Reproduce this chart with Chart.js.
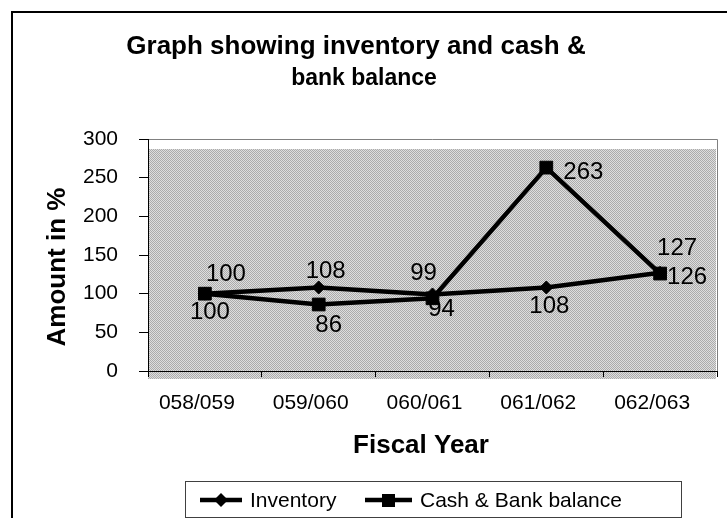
<!DOCTYPE html>
<html>
<head>
<meta charset="utf-8">
<script src="https://cdn.jsdelivr.net/npm/chart.js@4.4.1/dist/chart.umd.min.js"></script>
<style>
  html, body { margin: 0; padding: 0; background: #fff; }
  #wrap { width: 727px; height: 518px; }
</style>
</head>
<body>
<div id="wrap"><canvas id="chart"></canvas></div>
<script>
const YEARS = ["058/059", "059/060", "060/061", "061/062", "062/063"]
const INVENTORY = [100, 108, 99, 108, 127]
const CASH_BANK = [100, 86, 94, 263, 126]
const Y_TICKS = [0, 50, 100, 150, 200, 250, 300]

// offset of each value label from its point, in px
const INVENTORY_LABEL_SHIFT = [[21, -19], [7, -16], [-9, -21], [3, 19], [17, -24]]
const CASH_LABEL_SHIFT = [[5, 19], [10, 21], [9, 11], [37, 5], [27, 4]]

const FONT = "'Liberation Sans', Arial, sans-serif"

// small two-tone tile for the dotted plot background
function dotPattern(ctx) {
  const tile = document.createElement("canvas")
  tile.width = 2
  tile.height = 2
  const g = tile.getContext("2d")
  g.fillStyle = "#dedede"
  g.fillRect(0, 0, 2, 2)
  g.fillStyle = "#ababab"
  g.fillRect(0, 0, 1, 1)
  g.fillRect(1, 1, 1, 1)
  return ctx.createPattern(tile, "repeat")
}

function diamond(ctx, x, y, r) {
  ctx.beginPath()
  ctx.moveTo(x, y - r)
  ctx.lineTo(x + r, y)
  ctx.lineTo(x, y + r)
  ctx.lineTo(x - r, y)
  ctx.closePath()
  ctx.fill()
}

const decorations = {
  id: "decorations",
  beforeDraw(chart) {
    const { ctx, chartArea: a } = chart
    ctx.save()
    ctx.fillStyle = "#fff"
    ctx.fillRect(0, 0, chart.width, chart.height)

    // outer frame
    ctx.strokeStyle = "#000"
    ctx.lineWidth = 2
    ctx.beginPath()
    ctx.moveTo(12, 530)
    ctx.lineTo(12, 12)
    ctx.lineTo(740, 12)
    ctx.stroke()

    // plot area fill and outline
    ctx.fillStyle = dotPattern(ctx)
    ctx.fillRect(a.left, a.top + 10, a.right - a.left - 1, a.bottom - a.top - 2)
    ctx.strokeStyle = "#808080"
    ctx.lineWidth = 1
    ctx.beginPath()
    ctx.moveTo(a.left, a.top + 0.5)
    ctx.lineTo(a.right + 0.5, a.top + 0.5)
    ctx.lineTo(a.right + 0.5, a.bottom)
    ctx.stroke()
    ctx.restore()
  },
  afterDraw(chart) {
    const { ctx } = chart
    ctx.save()
    ctx.fillStyle = "#000"

    // chart title
    ctx.textAlign = "center"
    ctx.textBaseline = "alphabetic"
    ctx.font = "bold 26px " + FONT
    ctx.fillText("Graph showing inventory and cash &", 356, 54)
    ctx.font = "bold 23px " + FONT
    ctx.fillText("bank balance", 364, 85)

    // axis titles
    ctx.font = "bold 26px " + FONT
    ctx.fillText("Fiscal Year", 421, 453)
    ctx.save()
    ctx.translate(65, 267)
    ctx.rotate(-Math.PI / 2)
    ctx.fillText("Amount in %", 0, 0)
    ctx.restore()

    // value labels
    ctx.font = "24px " + FONT
    ctx.textBaseline = "middle"
    const shifts = [INVENTORY_LABEL_SHIFT, CASH_LABEL_SHIFT]
    chart.data.datasets.forEach((ds, di) => {
      chart.getDatasetMeta(di).data.forEach((pt, i) => {
        const [dx, dy] = shifts[di][i]
        ctx.fillText(String(ds.data[i]), pt.x + dx, pt.y + dy)
      })
    })

    // legend
    ctx.strokeStyle = "#404040"
    ctx.lineWidth = 1
    ctx.strokeRect(185.5, 481.5, 496, 36)
    ctx.strokeStyle = "#000"
    ctx.lineWidth = 4.5
    ctx.beginPath()
    ctx.moveTo(200, 500)
    ctx.lineTo(242, 500)
    ctx.moveTo(365, 500)
    ctx.lineTo(412, 500)
    ctx.stroke()
    diamond(ctx, 221, 500, 7)
    ctx.fillRect(382, 494, 13, 13)
    ctx.font = "21px " + FONT
    ctx.textAlign = "left"
    ctx.textBaseline = "alphabetic"
    ctx.fillText("Inventory", 250, 507)
    ctx.fillText("Cash & Bank balance", 420, 507)
    ctx.restore()
  }
}

new Chart(document.getElementById("chart"), {
  type: "line",
  data: {
    labels: YEARS,
    datasets: [
      {
        label: "Inventory",
        data: INVENTORY,
        borderColor: "#000",
        borderWidth: 4.5,
        borderJoinStyle: "round",
        pointStyle: "rectRot",
        pointRadius: 6.5,
        pointBackgroundColor: "#000",
        pointBorderColor: "#000",
        pointBorderWidth: 1,
        tension: 0
      },
      {
        label: "Cash & Bank balance",
        data: CASH_BANK,
        borderColor: "#000",
        borderWidth: 4.5,
        borderJoinStyle: "round",
        pointStyle: "rect",
        pointRadius: 9,
        pointBackgroundColor: "#000",
        pointBorderColor: "#000",
        pointBorderWidth: 1,
        tension: 0
      }
    ]
  },
  options: {
    responsive: true,
    maintainAspectRatio: false,
    animation: false,
    events: [],
    layout: { padding: { top: 139, left: 11, right: 6, bottom: 0 } },
    plugins: {
      legend: { display: false },
      title: { display: false },
      tooltip: { enabled: false }
    },
    scales: {
      x: {
        offset: true,
        grid: { offset: true, drawOnChartArea: false, tickLength: 6, color: "#000" },
        border: { color: "#000", width: 1 },
        ticks: {
          color: "#000",
          font: { family: FONT, size: 21 },
          padding: 14,
          labelOffset: -8,
          maxRotation: 0,
          autoSkip: false
        },
        afterFit: s => { s.height = 147 }
      },
      y: {
        min: 0,
        max: 300,
        grid: { drawOnChartArea: false, tickLength: 9, color: "#000" },
        border: { color: "#000", width: 1 },
        ticks: {
          color: "#000",
          font: { family: FONT, size: 21 },
          padding: 21
        },
        afterBuildTicks: s => { s.ticks = Y_TICKS.map(v => ({ value: v })) },
        afterFit: s => { s.width = 137 }
      }
    }
  },
  plugins: [decorations]
})
</script>
</body>
</html>
